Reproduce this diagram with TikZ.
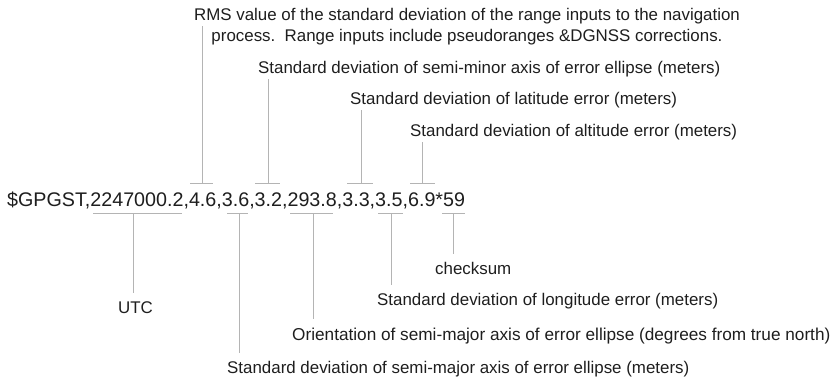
\documentclass[tikz,border=0pt]{standalone}
\usepackage{fontspec}
\setmainfont{Liberation Sans}
\usetikzlibrary{positioning}
\definecolor{Ink}{HTML}{1E1E1E}
\definecolor{Lead}{HTML}{B4B4B4}

\begin{document}
\begin{tikzpicture}[x=1pt,y=-1pt,
lbl/.style={anchor=base west,inner xsep=0pt,inner ysep=2pt,text=Ink,font=\fontsize{16.9}{20}\selectfont},
lead/.style={draw=Lead,line width=0.9pt}]
\useasboundingbox (0,0) rectangle (834,380);
\node[lbl,font=\fontsize{19.7}{24}\selectfont] (msg) at (7,206) {\$GPGST,2247000.2,4.6,3.6,3.2,293.8,3.3,3.5,6.9*59};
% fields described above the sentence
\node[lbl,anchor=base] (rms) at (467,20) {RMS value of the standard deviation of the range inputs to the navigation};
\node[lbl,anchor=base] (rmsb) at (467,41) {process.\ \ Range inputs include pseudoranges \&DGNSS corrections.};
\node[lbl] (minor) at (258,73) {Standard deviation of semi-minor axis of error ellipse (meters)};
\node[lbl] (lat) at (350,104) {Standard deviation of latitude error (meters)};
\node[lbl] (alt) at (410,136) {Standard deviation of altitude error (meters)};
% fields described below the sentence
\node[lbl] (sum) at (435,274) {checksum};
\node[lbl] (lon) at (377,305) {Standard deviation of longitude error (meters)};
\node[lbl] (utc) at (118,313) {UTC};
\node[lbl,font=\fontsize{17.2}{20}\selectfont] (orient) at (292,340) {Orientation of semi-major axis of error ellipse (degrees from true north)};
\node[lbl] (major) at (227,373) {Standard deviation of semi-major axis of error ellipse (meters)};
% bracket points on the sentence
\coordinate (f46) at (202,183);
\coordinate (f32) at (268,183);
\coordinate (f33) at (361,183);
\coordinate (f69) at (422,183);
\coordinate (futc) at (133,213);
\coordinate (f36) at (239,213);
\coordinate (f2938) at (313,213);
\coordinate (f35) at (391,213);
\coordinate (fsum) at (453,213);
\foreach \c/\l/\r/\n in {f46/12/11/rms,f32/13/12/minor,f33/14/12/lat,f69/12/13/alt}{
  \draw[lead] ([xshift=-\l]\c) -- ([xshift=\r]\c) (\c) -- (\c |- \n.south);}
\foreach \c/\l/\r/\n in {futc/40/49/utc,f36/12/9/major,f2938/23/20/orient,f35/13/12/lon,fsum/11/12/sum}{
  \draw[lead,shorten >=6pt] ([xshift=-\l]\c) -- ([xshift=\r]\c) (\c) -- (\c |- \n.north);}
\end{tikzpicture}
\end{document}
